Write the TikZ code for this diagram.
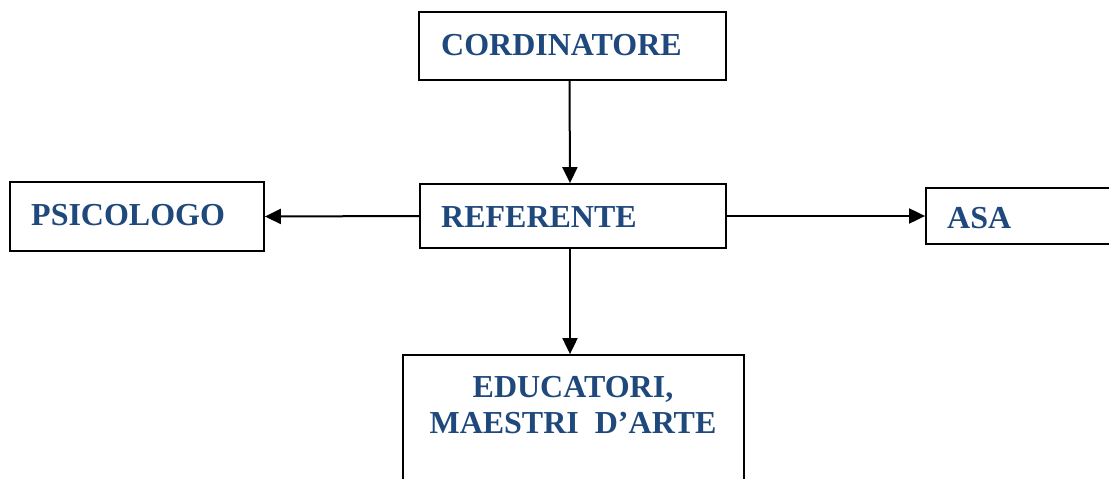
\documentclass[tikz,border=0pt]{standalone}
\usepackage{fontspec}
\setmainfont{Liberation Serif}
\usetikzlibrary{arrows.meta}
\definecolor{txtblue}{HTML}{1F497D}
\tikzset{
  box/.style={draw=black, line width=1.8pt, fill=white, inner sep=0pt},
  lbl/.style={text=txtblue, font=\fontsize{32}{36}\selectfont\bfseries, inner sep=0pt, anchor=base west},
  lblc/.style={text=txtblue, font=\fontsize{32}{36}\selectfont\bfseries, inner sep=0pt, anchor=base},
  conn/.style={draw=black, line width=2pt, -{Triangle[length=16pt,width=15pt]}}
}
\begin{document}
\begin{tikzpicture}[x=1pt,y=-1pt]
\useasboundingbox (0,0) rectangle (1109,479);
\clip (0,0) rectangle (1109,479);
\fill[white] (0,0) rectangle (1109,479);
% boxes
\node[box, minimum width=307pt, minimum height=68pt] (cord) at (572.5,46) {};
\node[box, minimum width=306pt, minimum height=64pt] (ref) at (573,216) {};
\node[box, minimum width=254pt, minimum height=69pt] (psi) at (137,216.5) {};
\node[box, minimum width=220pt, minimum height=56pt] (asa) at (1036,216) {};
\node[box, minimum width=341pt, minimum height=160pt] (edu) at (573.5,435) {};
% texts
\node[lbl] (tcord) at (441,55) {CORDINATORE};
\node[lbl] (tref) at (441,227) {REFERENTE};
\node[lbl] (tpsi) at (31,225) {PSICOLOGO};
\node[lbl] (tasa) at (947,228) {ASA};
\node[lblc] (tedu1) at (573,397) {EDUCATORI,};
\node[lblc] (tedu2) at (573,433) {MAESTRI\ \ D'ARTE};
% connectors
\draw[conn] ([xshift=-3pt]cord.south) -- ([xshift=-3pt]ref.north);
\draw[conn] (ref.west) -- (psi.east);
\draw[conn] (ref.east) -- (asa.west);
\draw[conn] ([xshift=-3pt]ref.south) -- ([xshift=-3.5pt]edu.north);
\end{tikzpicture}
\end{document}
